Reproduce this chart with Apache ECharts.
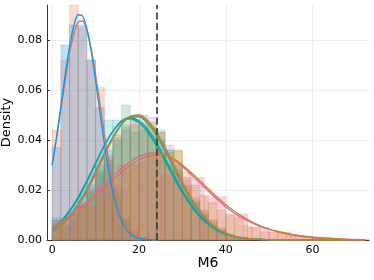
<!DOCTYPE html>
<html>
<head>
<meta charset="utf-8">
<script src="https://cdn.jsdelivr.net/npm/echarts@6/dist/echarts.min.js"></script>
<style>html,body{margin:0;padding:0;background:#fff}#c{width:374px;height:280px}</style>
</head>
<body>
<div id="c"></div>
<script>
// ---- data ----
const xTicks = [0, 20, 40, 60];
const yTicks = [0, 0.02, 0.04, 0.06, 0.08];
const refLine = 24;

// density curves of the two low-mean series, sampled every 1 unit
const curveXA = [0,1,2,3,4,5,6,7,8,9,10,11,12,13,14,15,16,17,18,19,20,21,22,23,24];
const densBlue   = [0.0299,0.0411,0.0536,0.0662,0.0775,0.0858,0.0901,0.0896,0.0844,0.0754,0.0637,0.0511,0.0388,0.0279,0.0190,0.0122,0.0075,0.0043,0.0024,0.0012,0.0006,0.0003,0.0001,0.0001,0];
const densOrange = [0.0305,0.0406,0.0522,0.0639,0.0745,0.0826,0.0872,0.0876,0.0838,0.0763,0.0662,0.0546,0.0428,0.0320,0.0228,0.0154,0.0099,0.0061,0.0036,0.0020,0.0010,0.0005,0.0003,0.0001,0];

// density curves of the other series, sampled every 2 units
const curveX = [0,2,4,6,8,10,12,14,16,18,20,22,24,26,28,30,32,34,36,38,40,42,44,46,48,50,52,54,56,58,60,62,64,66,68,70,72];
const densGreen   = [0.0036,0.0061,0.0097,0.0145,0.0206,0.0276,0.0347,0.0413,0.0464,0.0492,0.0493,0.0467,0.0420,0.0358,0.0289,0.0221,0.0160,0.0110,0.0071,0.0044,0.0026,0.0014,0.0007,0.0004,0.0002,0.0001,0,0,0,0,0,0,0,0,0,0,0];
const densPurple  = [0.0034,0.0058,0.0094,0.0141,0.0201,0.0271,0.0343,0.0411,0.0464,0.0495,0.0498,0.0474,0.0428,0.0366,0.0296,0.0227,0.0165,0.0114,0.0074,0.0046,0.0027,0.0015,0.0008,0.0004,0.0002,0.0001,0,0,0,0,0,0,0,0,0,0,0];
const densOlive   = [0.0032,0.0055,0.0090,0.0136,0.0195,0.0265,0.0338,0.0407,0.0462,0.0494,0.0500,0.0478,0.0433,0.0372,0.0302,0.0232,0.0170,0.0118,0.0077,0.0048,0.0029,0.0016,0.0009,0.0004,0.0002,0.0001,0,0,0,0,0,0,0,0,0,0,0];
const densTeal    = [0.0043,0.0071,0.0112,0.0167,0.0232,0.0304,0.0376,0.0436,0.0477,0.0490,0.0477,0.0442,0.0390,0.0327,0.0261,0.0198,0.0144,0.0099,0.0065,0.0040,0.0024,0.0014,0.0007,0.0004,0.0002,0.0001,0,0,0,0,0,0,0,0,0,0,0];
const densSea     = [0.0047,0.0076,0.0118,0.0173,0.0238,0.0309,0.0378,0.0435,0.0473,0.0485,0.0469,0.0432,0.0378,0.0315,0.0250,0.0189,0.0137,0.0094,0.0062,0.0038,0.0023,0.0013,0.0007,0.0003,0.0002,0.0001,0,0,0,0,0,0,0,0,0,0,0];
const densPink    = [0.0053,0.0074,0.0097,0.0124,0.0155,0.0188,0.0222,0.0256,0.0287,0.0313,0.0334,0.0346,0.0349,0.0341,0.0321,0.0294,0.0262,0.0229,0.0195,0.0163,0.0132,0.0107,0.0086,0.0068,0.0053,0.0042,0.0033,0.0025,0.0019,0.0014,0.0010,0.0007,0.0005,0.0003,0.0002,0.0001,0.0001];
const densBrown   = [0.0048,0.0067,0.0089,0.0114,0.0143,0.0175,0.0208,0.0241,0.0272,0.0299,0.0320,0.0335,0.0342,0.0340,0.0325,0.0300,0.0270,0.0238,0.0204,0.0171,0.0141,0.0115,0.0092,0.0073,0.0057,0.0044,0.0034,0.0026,0.0020,0.0015,0.0011,0.0008,0.0005,0.0004,0.0002,0.0001,0.0001];

// histogram bin edges
const edges2 = [0,2,4,6,8,10,12,14,16,18,20,22,24,26,28,30,32,34,36,38,40,42,44,46,48,50,52,54,56,58,60,62,64,66,68,70,72];
const edges5 = [0,5,10,15,20,25,30,35,40,45,50,55,60,65,70,75];

// histogram densities (per bin, starting at first edge)
const histBlue   = [0.037,0.078,0.086,0.086,0.072,0.053,0.032,0.018,0.008,0.003,0.001];
const histOrange = [0.044,0.072,0.098,0.085,0.072,0.061,0.030,0.020,0.009,0.004,0.001];
const histGreen  = [0.008,0.007,0.011,0.014,0.020,0.028,0.033,0.041,0.054,0.046,0.050,0.045,0.044,0.036,0.028,0.022,0.015,0.012,0.007,0.004,0.002,0.001,0.0005];
const histPurple = [0.004,0.006,0.009,0.013,0.021,0.026,0.036,0.040,0.045,0.048,0.047,0.049,0.043,0.038,0.031,0.024,0.015,0.011,0.008,0.005,0.002,0.001,0.0005];
const histOlive  = [0.005,0.005,0.010,0.015,0.019,0.027,0.034,0.042,0.044,0.048,0.046,0.047,0.043,0.035,0.036,0.021,0.016,0.010,0.008,0.004,0.002,0.001];
const histTeal   = [0.009,0.006,0.010,0.018,0.022,0.030,0.048,0.048,0.046,0.043,0.044,0.042,0.040,0.036,0.030,0.018,0.017,0.010,0.006,0.003,0.002,0.001];
const histPink   = [0.008,0.014,0.022,0.030,0.034,0.0264,0.025,0.0173,0.0104,0.0050,0.0030,0.0016,0.0010,0.0005,0.0004];
const histBrown  = [0.004,0.006,0.008,0.011,0.013,0.017,0.021,0.025,0.027,0.030,0.031,0.034,0.033,0.030,0.0356,0.027,0.022,0.018,0.015,0.012,0.010,0.009,0.006,0.005,0.0033,0.0033,0.0033,0.002,0.0015,0.001,0.0012,0.0012,0.0005,0.0004,0.0002];

// ---- styling ----
const C = {
  blue:'#009AFA', orange:'#E36F47', green:'#3EA44E', purple:'#C371D2', olive:'#AC8D18',
  teal:'#00A9AD', pink:'#ED5E93', brown:'#C68225', sea:'#00A98D'
};
function rgba(hex, a){
  const n = parseInt(hex.slice(1),16);
  return 'rgba(' + ((n>>16)&255) + ',' + ((n>>8)&255) + ',' + (n&255) + ',' + a + ')';
}
function histSeries(values, edges, color, alpha){
  const data = values.map((h,i)=>[edges[i], edges[i+1], h]);
  return {
    type:'custom',
    data: data,
    encode:{x:[0,1], y:2},
    z: 1,
    silent: true,
    renderItem: function(params, api){
      const p0 = api.coord([api.value(0), api.value(2)]);
      const p1 = api.coord([api.value(1), 0]);
      const rect = echarts.graphic.clipRectByRect(
        {x:p0[0], y:p0[1], width:p1[0]-p0[0], height:p1[1]-p0[1]},
        {x:params.coordSys.x, y:params.coordSys.y, width:params.coordSys.width, height:params.coordSys.height}
      );
      if(!rect) return null;
      return {type:'rect', shape:rect, style:{fill:rgba(color,alpha), stroke:rgba(color,alpha+0.08), lineWidth:0.6}};
    }
  };
}
function lineSeries(xs, values, color){
  return {
    type:'line', data: xs.map((x,i)=>[x, values[i]]),
    showSymbol:false, smooth:0.3, z: 3, silent:true,
    lineStyle:{color:color, width:1.3}, itemStyle:{color:color}
  };
}

const series = [
  histSeries(histBlue, edges2, C.blue, 0.28),
  histSeries(histOrange, edges2, C.orange, 0.25),
  histSeries(histGreen, edges2, C.green, 0.24),
  histSeries(histPurple, edges2, C.purple, 0.24),
  histSeries(histTeal, edges2, C.teal, 0.2),
  histSeries(histOlive, edges2, C.olive, 0.24),
  histSeries(histPink, edges5, C.pink, 0.27),
  histSeries(histBrown, edges2, C.brown, 0.25),
  lineSeries(curveX, densSea, C.sea),
  lineSeries(curveX, densTeal, C.teal),
  lineSeries(curveX, densGreen, C.green),
  lineSeries(curveX, densPurple, C.purple),
  lineSeries(curveX, densOlive, C.olive),
  lineSeries(curveX, densPink, C.pink),
  lineSeries(curveX, densBrown, C.brown),
  lineSeries(curveXA, densOrange, C.orange),
  lineSeries(curveXA, densBlue, C.blue)
];
series.push({
  type:'line', data:[], z:4, silent:true,
  markLine:{
    silent:true, symbol:['none','none'], label:{show:false},
    lineStyle:{color:'rgba(60,60,60,0.85)', width:2, type:[7,3.5]},
    data:[{xAxis: refLine}]
  }
});

const chart = echarts.init(document.getElementById('c'), null, {renderer:'canvas'});
chart.setOption({
  animation:false,
  backgroundColor:'#fff',
  grid:{left:47, right:5, top:5, bottom:40, containLabel:false, outerBoundsMode:'none'},
  xAxis:{
    type:'value', min:-1.2, max:73,
    name:'M6', nameLocation:'middle', nameGap:16, nameMoveOverlap:false,
    nameTextStyle:{fontFamily:'DejaVu Sans', fontSize:14, color:'#000'},
    axisLine:{show:true, onZero:false, lineStyle:{color:'#333', width:1}},
    axisTick:{show:true, inside:true, length:3, customValues:xTicks, lineStyle:{color:'#333'}},
    axisLabel:{customValues:xTicks, fontFamily:'DejaVu Sans', fontSize:11, color:'#000', margin:5},
    splitLine:{show:true, lineStyle:{color:'#ececec', width:1}}
  },
  yAxis:{
    type:'value', min:0, max:0.094,
    name:'Density', nameLocation:'middle', nameGap:34, nameMoveOverlap:false,
    nameTextStyle:{fontFamily:'DejaVu Sans', fontSize:13, color:'#000'},
    axisLine:{show:true, onZero:false, lineStyle:{color:'#333', width:1}},
    axisTick:{show:true, inside:true, length:3, customValues:yTicks, lineStyle:{color:'#333'}},
    axisLabel:{customValues:yTicks, fontFamily:'DejaVu Sans', fontSize:11, color:'#000', margin:5,
      formatter:(v)=>v.toFixed(2)},
    splitLine:{show:true, lineStyle:{color:'#ececec', width:1}}
  },
  series: series
});
</script>
</body>
</html>
